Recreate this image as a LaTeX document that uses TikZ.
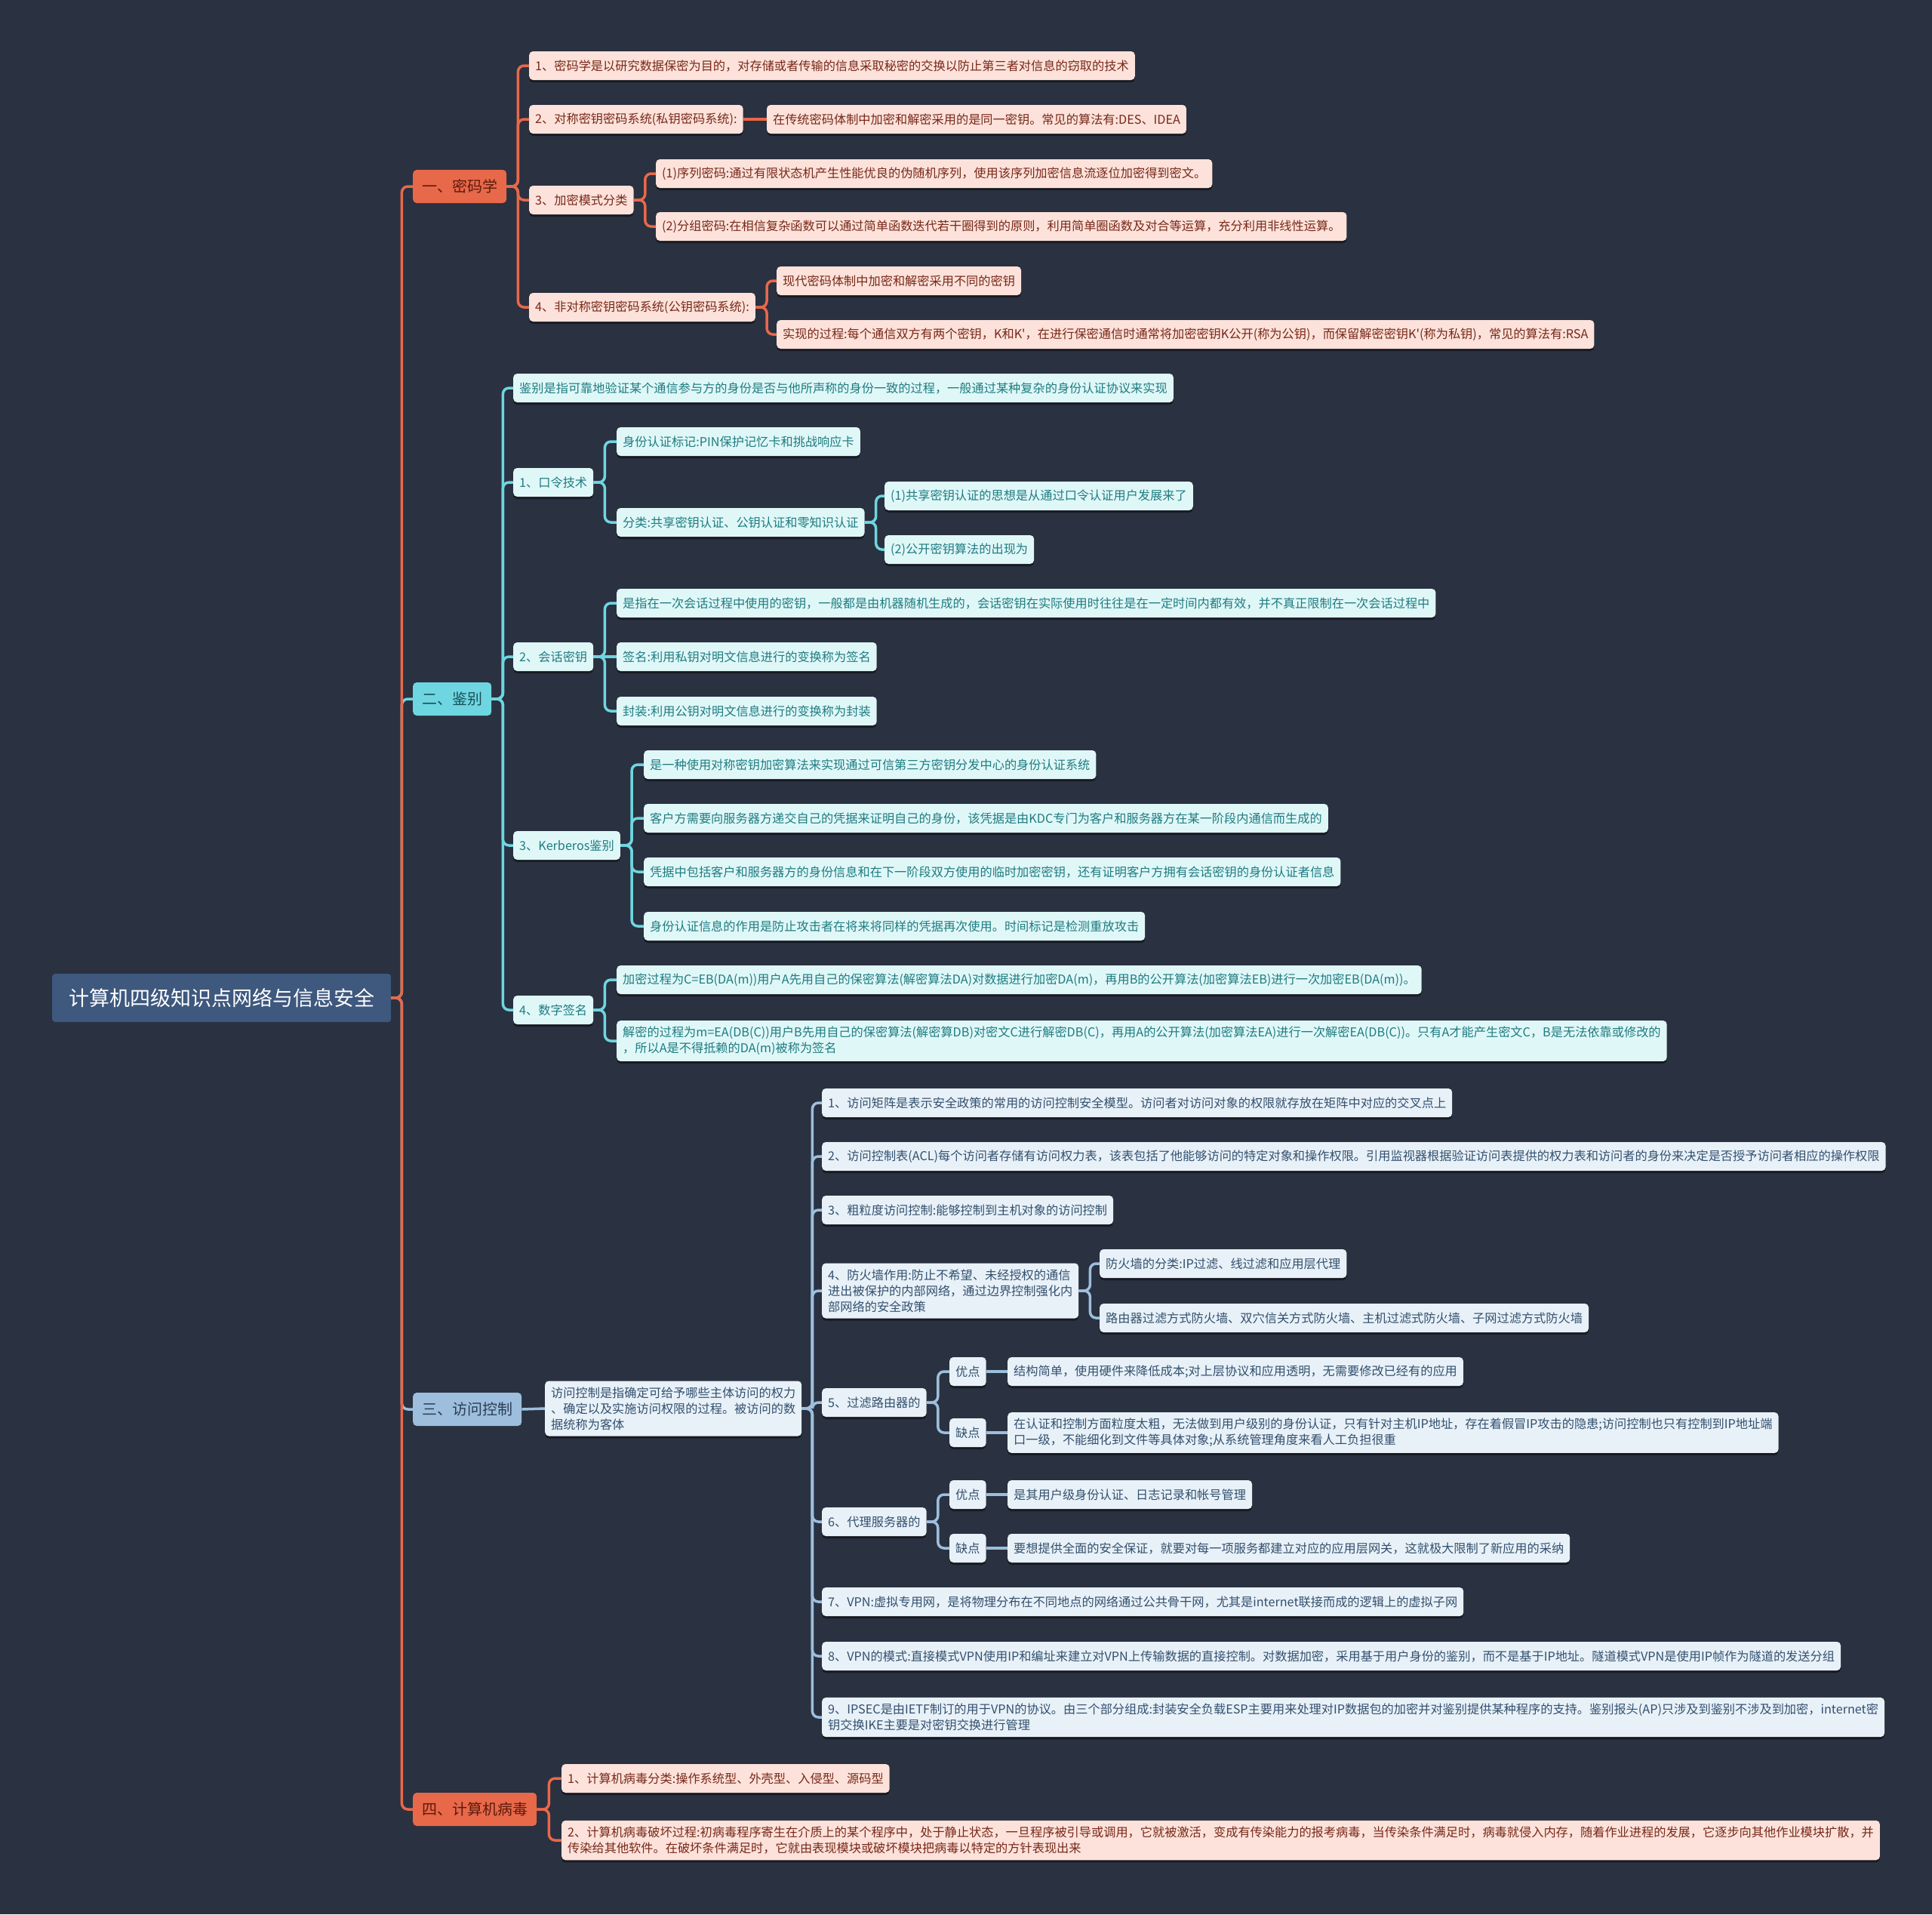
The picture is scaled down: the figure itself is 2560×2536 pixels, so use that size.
\documentclass[tikz,border=0pt]{standalone}
\usepackage{fontspec}
\usepackage{xcolor}
\usepackage{tikz}
\usetikzlibrary{positioning,shadows}
\setmainfont{Noto Sans CJK SC}
\newfontfamily\plainfont{Noto Sans CJK SC}
\definecolor{bgdark}{HTML}{2A3140}
\definecolor{rootblue}{HTML}{3E587E}
\definecolor{cryorange}{HTML}{E8684A}
\definecolor{cryleaf}{HTML}{FCE2DA}
\definecolor{crytext}{HTML}{782819}
\definecolor{crybranchtext}{HTML}{5E1A0C}
\definecolor{authcyan}{HTML}{6ED6E0}
\definecolor{authleaf}{HTML}{E0F7F8}
\definecolor{authtext}{HTML}{1E7C80}
\definecolor{authbranchtext}{HTML}{1B4F57}
\definecolor{accblue}{HTML}{9DBFDD}
\definecolor{accleaf}{HTML}{E8F1F8}
\definecolor{acctext}{HTML}{33506E}
\definecolor{accbranchtext}{HTML}{2B3D55}
\newcommand{\leaffont}{\fontsize{16.2}{21}\selectfont}
\newcommand{\branchfont}{\fontsize{20}{24}\selectfont}
\newcommand{\rootfont}{\fontsize{27}{32}\selectfont}
\newcommand{\kprime}{{\plainfont '}}
\tikzstyle{rootnode} = [rectangle, rounded corners=4pt, fill=rootblue, text=white, font=\rootfont, inner xsep=22pt, minimum height=64pt, anchor=west]
\tikzstyle{branch} = [rectangle, rounded corners=5pt, font=\branchfont, inner xsep=12pt, minimum height=44pt, anchor=west]
\tikzstyle{crybranch} = [branch, fill=cryorange, text=crybranchtext]
\tikzstyle{authbranch} = [branch, fill=authcyan, text=authbranchtext]
\tikzstyle{accbranch} = [branch, fill=accblue, text=accbranchtext]
\tikzstyle{leaf} = [rectangle, rounded corners=5pt, font=\leaffont, inner xsep=8pt, inner ysep=8pt, minimum height=38pt, align=left, anchor=west, drop shadow={shadow xshift=0pt, shadow yshift=-3pt, fill=black, opacity=0.45}]
\tikzstyle{cryleafbox} = [leaf, fill=cryleaf, text=crytext]
\tikzstyle{authleafbox} = [leaf, fill=authleaf, text=authtext]
\tikzstyle{accleafbox} = [leaf, fill=accleaf, text=acctext]
\tikzstyle{crylink} = [draw=cryorange, line width=3.5pt, rounded corners=8pt]
\tikzstyle{authlink} = [draw=authcyan, line width=3.5pt, rounded corners=8pt]
\tikzstyle{acclink} = [draw=accblue, line width=3.5pt, rounded corners=8pt]

\begin{document}
\begin{tikzpicture}[x=1pt, y=-1pt]
\fill[bgdark] (0,0) rectangle (2560,2536);
\useasboundingbox (0,0) rectangle (2560,2536);

% root and main branches
\node[rootnode] (root) at (69,1322) {计算机四级知识点网络与信息安全};
\node[crybranch] (crypto) at (547,247) {一、密码学};
\node[authbranch] (auth) at (547,926) {二、鉴别};
\node[accbranch] (access) at (547,1867) {三、访问控制};
\node[crybranch] (virus) at (547,2397) {四、计算机病毒};

% 密码学
\node[cryleafbox] (cdef) at (701,87) {1、密码学是以研究数据保密为目的，对存储或者传输的信息采取秘密的交换以防止第三者对信息的窃取的技术};
\node[cryleafbox] (csym) at (701,158) {2、对称密钥密码系统(私钥密码系统):};
\node[cryleafbox, right=31pt of csym] (csymalg) {在传统密码体制中加密和解密采用的是同一密钥。常见的算法有:DES、IDEA};
\node[cryleafbox] (cmode) at (701,265) {3、加密模式分类};
\node[cryleafbox] (cstream) at (869,230) {(1)序列密码:通过有限状态机产生性能优良的伪随机序列，使用该序列加密信息流逐位加密得到密文。};
\node[cryleafbox] (cblock) at (869,300) {(2)分组密码:在相信复杂函数可以通过简单函数迭代若干圈得到的原则，利用简单圈函数及对合等运算，充分利用非线性运算。};
\node[cryleafbox] (casym) at (701,407) {4、非对称密钥密码系统(公钥密码系统):};
\node[cryleafbox] (casymkey) at (1029,372) {现代密码体制中加密和解密采用不同的密钥};
\node[cryleafbox] (casymalg) at (1029,443) {实现的过程:每个通信双方有两个密钥，K和K\kprime，在进行保密通信时通常将加密密钥K公开(称为公钥)，而保留解密密钥K\kprime(称为私钥)，常见的算法有:RSA};

% 鉴别
\node[authleafbox] (adef) at (680,514) {鉴别是指可靠地验证某个通信参与方的身份是否与他所声称的身份一致的过程，一般通过某种复杂的身份认证协议来实现};
\node[authleafbox] (apass) at (680,639) {1、口令技术};
\node[authleafbox] (apin) at (817,585) {身份认证标记:PIN保护记忆卡和挑战响应卡};
\node[authleafbox] (aclass) at (817,692) {分类:共享密钥认证、公钥认证和零知识认证};
\node[authleafbox] (ashare) at (1172,657) {(1)共享密钥认证的思想是从通过口令认证用户发展来了};
\node[authleafbox] (apublic) at (1172,728) {(2)公开密钥算法的出现为};
\node[authleafbox] (asess) at (680,870) {2、会话密钥};
\node[authleafbox] (asessdef) at (817,799) {是指在一次会话过程中使用的密钥，一般都是由机器随机生成的，会话密钥在实际使用时往往是在一定时间内都有效，并不真正限制在一次会话过程中};
\node[authleafbox] (asign) at (817,870) {签名:利用私钥对明文信息进行的变换称为签名};
\node[authleafbox] (aseal) at (817,942) {封装:利用公钥对明文信息进行的变换称为封装};
\node[authleafbox] (akerb) at (680,1120) {3、Kerberos鉴别};
\node[authleafbox] (akerba) at (853,1013) {是一种使用对称密钥加密算法来实现通过可信第三方密钥分发中心的身份认证系统};
\node[authleafbox] (akerbb) at (853,1084) {客户方需要向服务器方递交自己的凭据来证明自己的身份，该凭据是由KDC专门为客户和服务器方在某一阶段内通信而生成的};
\node[authleafbox] (akerbc) at (853,1155) {凭据中包括客户和服务器方的身份信息和在下一阶段双方使用的临时加密密钥，还有证明客户方拥有会话密钥的身份认证者信息};
\node[authleafbox] (akerbd) at (853,1227) {身份认证信息的作用是防止攻击者在将来将同样的凭据再次使用。时间标记是检测重放攻击};
\node[authleafbox] (adsig) at (680,1338) {4、数字签名};
\node[authleafbox] (adsigenc) at (817,1298) {加密过程为C=EB(DA(m))用户A先用自己的保密算法(解密算法DA)对数据进行加密DA(m)，再用B的公开算法(加密算法EB)进行一次加密EB(DA(m))。};
\node[authleafbox] (adsigdec) at (817,1379) {解密的过程为m=EA(DB(C))用户B先用自己的保密算法(解密算DB)对密文C进行解密DB(C)，再用A的公开算法(加密算法EA)进行一次解密EA(DB(C))。只有A才能产生密文C，B是无法依靠或修改的\\，所以A是不得抵赖的DA(m)被称为签名};

% 访问控制
\node[accleafbox] (xdef) at (722,1866) {访问控制是指确定可给予哪些主体访问的权力\\、确定以及实施访问权限的过程。被访问的数\\据统称为客体};
\node[accleafbox] (xmatrix) at (1089,1461) {1、访问矩阵是表示安全政策的常用的访问控制安全模型。访问者对访问对象的权限就存放在矩阵中对应的交叉点上};
\node[accleafbox] (xacl) at (1089,1532) {2、访问控制表(ACL)每个访问者存储有访问权力表，该表包括了他能够访问的特定对象和操作权限。引用监视器根据验证访问表提供的权力表和访问者的身份来决定是否授予访问者相应的操作权限};
\node[accleafbox] (xcoarse) at (1089,1603) {3、粗粒度访问控制:能够控制到主机对象的访问控制};
\node[accleafbox] (xfw) at (1089,1710) {4、防火墙作用:防止不希望、未经授权的通信\\进出被保护的内部网络，通过边界控制强化内\\部网络的安全政策};
\node[accleafbox] (xfwa) at (1457,1674) {防火墙的分类:IP过滤、线过滤和应用层代理};
\node[accleafbox] (xfwb) at (1457,1746) {路由器过滤方式防火墙、双穴信关方式防火墙、主机过滤式防火墙、子网过滤方式防火墙};
\node[accleafbox] (xrouter) at (1089,1858) {5、过滤路由器的};
\node[accleafbox] (xrpro) at (1258,1817) {优点};
\node[accleafbox] (xrprotxt) at (1335,1817) {结构简单，使用硬件来降低成本;对上层协议和应用透明，无需要修改已经有的应用};
\node[accleafbox] (xrcon) at (1258,1898) {缺点};
\node[accleafbox] (xrcontxt) at (1335,1898) {在认证和控制方面粒度太粗，无法做到用户级别的身份认证，只有针对主机IP地址，存在着假冒IP攻击的隐患;访问控制也只有控制到IP地址端\\口一级，不能细化到文件等具体对象;从系统管理角度来看人工负担很重};
\node[accleafbox] (xproxy) at (1089,2016) {6、代理服务器的};
\node[accleafbox] (xppro) at (1258,1980) {优点};
\node[accleafbox] (xpprotxt) at (1335,1980) {是其用户级身份认证、日志记录和帐号管理};
\node[accleafbox] (xpcon) at (1258,2051) {缺点};
\node[accleafbox] (xpcontxt) at (1335,2051) {要想提供全面的安全保证，就要对每一项服务都建立对应的应用层网关，这就极大限制了新应用的采纳};
\node[accleafbox] (xvpn) at (1089,2122) {7、VPN:虚拟专用网，是将物理分布在不同地点的网络通过公共骨干网，尤其是internet联接而成的逻辑上的虚拟子网};
\node[accleafbox] (xvpnmode) at (1089,2194) {8、VPN的模式:直接模式VPN使用IP和编址来建立对VPN上传输数据的直接控制。对数据加密，采用基于用户身份的鉴别，而不是基于IP地址。隧道模式VPN是使用IP帧作为隧道的发送分组};
\node[accleafbox] (xipsec) at (1089,2275) {9、IPSEC是由IETF制订的用于VPN的协议。由三个部分组成:封装安全负载ESP主要用来处理对IP数据包的加密并对鉴别提供某种程序的支持。鉴别报头(AP)只涉及到鉴别不涉及到加密，internet密\\钥交换IKE主要是对密钥交换进行管理};

% 计算机病毒
\node[cryleafbox] (vkind) at (744,2356) {1、计算机病毒分类:操作系统型、外壳型、入侵型、源码型};
\node[cryleafbox] (vharm) at (744,2438) {2、计算机病毒破坏过程:初病毒程序寄生在介质上的某个程序中，处于静止状态，一旦程序被引导或调用，它就被激活，变成有传染能力的报考病毒，当传染条件满足时，病毒就侵入内存，随着作业进程的发展，它逐步向其他作业模块扩散，并\\传染给其他软件。在破坏条件满足时，它就由表现模块或破坏模块把病毒以特定的方针表现出来};

% connectors
\draw[authlink] (root.east) -- ++(14,0) |- (auth.west);
\draw[acclink] (root.east) -- ++(14,0) |- (access.west);
\draw[crylink] (root.east) -- ++(14,0) |- (crypto.west);
\draw[crylink] (root.east) -- ++(14,0) |- (virus.west);

\draw[crylink] (crypto.east) -- ++(15,0) |- (cdef.west);
\draw[crylink] (crypto.east) -- ++(15,0) |- (csym.west);
\draw[crylink] (crypto.east) -- ++(15,0) |- (cmode.west);
\draw[crylink] (crypto.east) -- ++(15,0) |- (casym.west);
\draw[crylink] (csym.east) -- (csymalg.west);
\draw[crylink] (cmode.east) -- ++(15,0) |- (cstream.west);
\draw[crylink] (cmode.east) -- ++(15,0) |- (cblock.west);
\draw[crylink] (casym.east) -- ++(15,0) |- (casymkey.west);
\draw[crylink] (casym.east) -- ++(15,0) |- (casymalg.west);

\draw[authlink] (auth.east) -- ++(15,0) |- (adef.west);
\draw[authlink] (auth.east) -- ++(15,0) |- (apass.west);
\draw[authlink] (auth.east) -- ++(15,0) |- (asess.west);
\draw[authlink] (auth.east) -- ++(15,0) |- (akerb.west);
\draw[authlink] (auth.east) -- ++(15,0) |- (adsig.west);
\draw[authlink] (apass.east) -- ++(15,0) |- (apin.west);
\draw[authlink] (apass.east) -- ++(15,0) |- (aclass.west);
\draw[authlink] (aclass.east) -- ++(15,0) |- (ashare.west);
\draw[authlink] (aclass.east) -- ++(15,0) |- (apublic.west);
\draw[authlink] (asess.east) -- ++(15,0) |- (asessdef.west);
\draw[authlink] (asess.east) -- (asign.west);
\draw[authlink] (asess.east) -- ++(15,0) |- (aseal.west);
\draw[authlink] (akerb.east) -- ++(15,0) |- (akerba.west);
\draw[authlink] (akerb.east) -- ++(15,0) |- (akerbb.west);
\draw[authlink] (akerb.east) -- ++(15,0) |- (akerbc.west);
\draw[authlink] (akerb.east) -- ++(15,0) |- (akerbd.west);
\draw[authlink] (adsig.east) -- ++(15,0) |- (adsigenc.west);
\draw[authlink] (adsig.east) -- ++(15,0) |- (adsigdec.west);

\draw[acclink] (access.east) -- (xdef.west);
\draw[acclink] (xdef.east) -- ++(14,0) |- (xmatrix.west);
\draw[acclink] (xdef.east) -- ++(14,0) |- (xacl.west);
\draw[acclink] (xdef.east) -- ++(14,0) |- (xcoarse.west);
\draw[acclink] (xdef.east) -- ++(14,0) |- (xfw.west);
\draw[acclink] (xdef.east) -- ++(14,0) |- (xrouter.west);
\draw[acclink] (xdef.east) -- ++(14,0) |- (xproxy.west);
\draw[acclink] (xdef.east) -- ++(14,0) |- (xvpn.west);
\draw[acclink] (xdef.east) -- ++(14,0) |- (xvpnmode.west);
\draw[acclink] (xdef.east) -- ++(14,0) |- (xipsec.west);
\draw[acclink] (xfw.east) -- ++(15,0) |- (xfwa.west);
\draw[acclink] (xfw.east) -- ++(15,0) |- (xfwb.west);
\draw[acclink] (xrouter.east) -- ++(15,0) |- (xrpro.west);
\draw[acclink] (xrouter.east) -- ++(15,0) |- (xrcon.west);
\draw[acclink] (xrpro.east) -- (xrprotxt.west);
\draw[acclink] (xrcon.east) -- (xrcontxt.west);
\draw[acclink] (xproxy.east) -- ++(15,0) |- (xppro.west);
\draw[acclink] (xproxy.east) -- ++(15,0) |- (xpcon.west);
\draw[acclink] (xppro.east) -- (xpprotxt.west);
\draw[acclink] (xpcon.east) -- (xpcontxt.west);

\draw[crylink] (virus.east) -- ++(16,0) |- (vkind.west);
\draw[crylink] (virus.east) -- ++(16,0) |- (vharm.west);
\end{tikzpicture}
\end{document}
